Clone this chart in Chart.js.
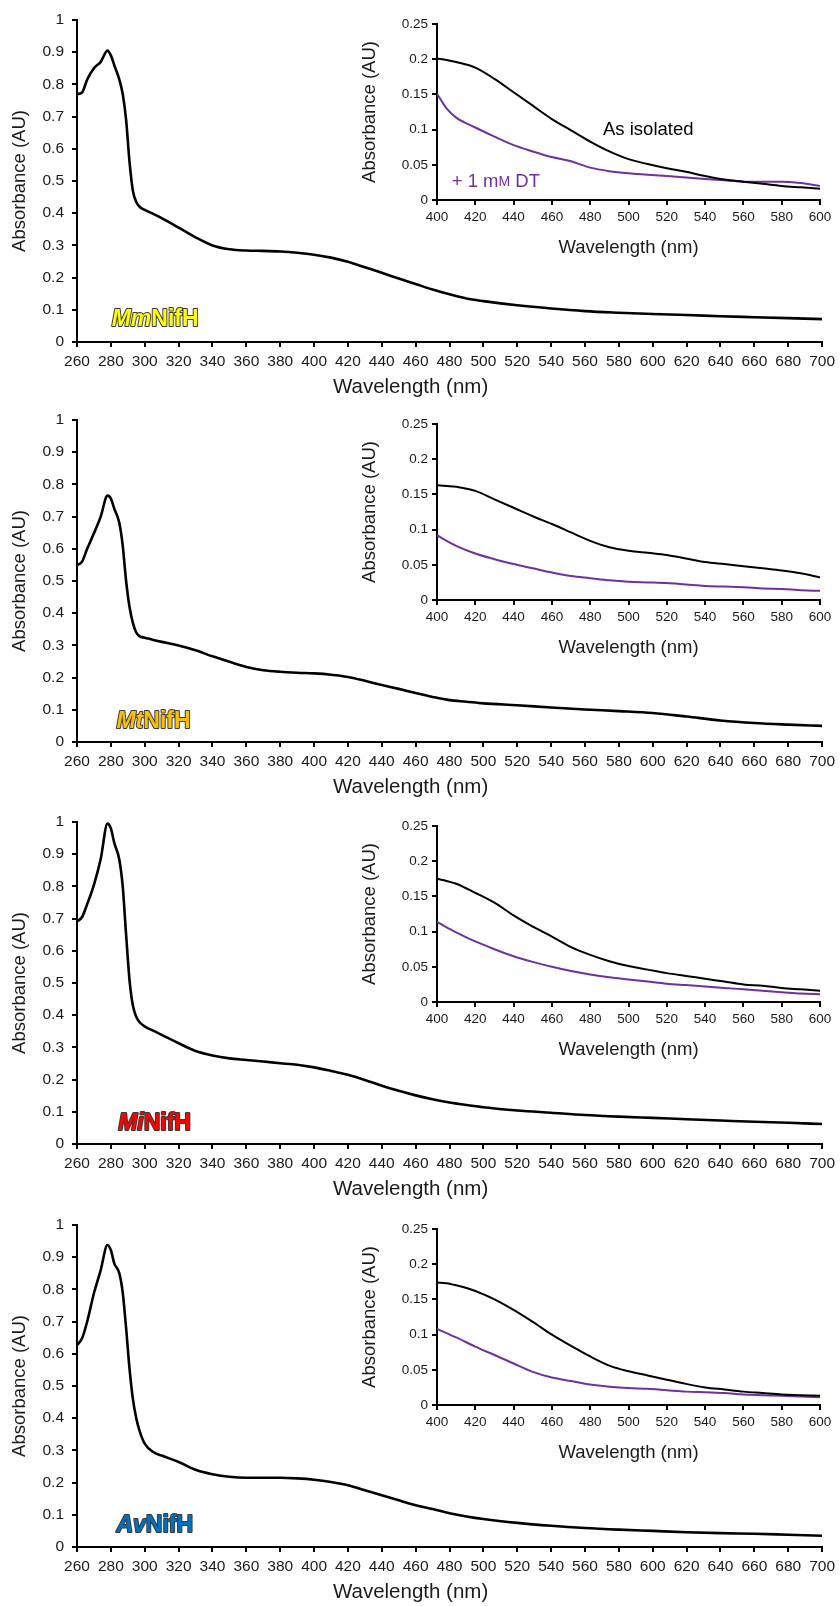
<!DOCTYPE html>
<html>
<head>
<meta charset="utf-8">
<script src="https://cdn.jsdelivr.net/npm/chart.js@4.4.1/dist/chart.umd.min.js"></script>
<style>
  html, body { margin: 0; padding: 0; background: #fff; }
  body { width: 840px; height: 1606px; position: relative; overflow: hidden; }
  canvas { position: absolute; }
</style>
</head>
<body>
<script>
// full spectra, 260-700 nm
const mainWavelengths = [260, 263, 266, 270, 274, 278, 280, 282, 285, 287, 289, 291, 293, 295, 297, 300, 305, 310, 320, 330, 340, 350, 360, 370, 380, 390, 400, 410, 420, 430, 440, 450, 460, 470, 480, 490, 500, 520, 540, 560, 580, 600, 620, 640, 660, 680, 700];
const mmMain = [0.77, 0.775, 0.815, 0.85, 0.87, 0.905, 0.89, 0.86, 0.815, 0.77, 0.69, 0.56, 0.47, 0.435, 0.42, 0.41, 0.398, 0.385, 0.355, 0.325, 0.30, 0.288, 0.284, 0.283, 0.281, 0.277, 0.271, 0.262, 0.249, 0.232, 0.215, 0.197, 0.18, 0.163, 0.148, 0.135, 0.127, 0.114, 0.104, 0.096, 0.091, 0.087, 0.084, 0.080, 0.077, 0.074, 0.071];
const mtMain = [0.549, 0.56, 0.60, 0.648, 0.70, 0.765, 0.756, 0.725, 0.68, 0.61, 0.50, 0.42, 0.37, 0.34, 0.328, 0.324, 0.317, 0.311, 0.30, 0.285, 0.266, 0.249, 0.233, 0.223, 0.218, 0.215, 0.213, 0.209, 0.202, 0.19, 0.177, 0.165, 0.152, 0.14, 0.13, 0.125, 0.12, 0.114, 0.107, 0.101, 0.096, 0.09, 0.079, 0.067, 0.059, 0.054, 0.05];
const miMain = [0.691, 0.705, 0.745, 0.805, 0.885, 0.995, 0.98, 0.935, 0.883, 0.80, 0.65, 0.51, 0.43, 0.395, 0.378, 0.365, 0.352, 0.339, 0.313, 0.289, 0.275, 0.266, 0.261, 0.256, 0.251, 0.246, 0.238, 0.227, 0.215, 0.199, 0.181, 0.165, 0.151, 0.139, 0.129, 0.121, 0.114, 0.104, 0.097, 0.09, 0.085, 0.081, 0.077, 0.073, 0.069, 0.066, 0.062];
const avMain = [0.627, 0.648, 0.70, 0.788, 0.86, 0.938, 0.922, 0.881, 0.85, 0.79, 0.68, 0.555, 0.46, 0.40, 0.36, 0.321, 0.295, 0.284, 0.264, 0.24, 0.226, 0.218, 0.215, 0.215, 0.215, 0.213, 0.209, 0.202, 0.192, 0.176, 0.161, 0.145, 0.13, 0.118, 0.105, 0.095, 0.087, 0.075, 0.066, 0.059, 0.054, 0.05, 0.046, 0.043, 0.041, 0.038, 0.035];

// insets, 400-600 nm: as isolated vs + 1 mM dithionite
const insetWavelengths = [400, 405, 410, 420, 430, 440, 450, 460, 470, 480, 490, 500, 510, 520, 530, 540, 550, 560, 570, 580, 590, 600];
const mmIsolated = [0.201, 0.199, 0.196, 0.188, 0.172, 0.153, 0.134, 0.115, 0.099, 0.083, 0.069, 0.058, 0.051, 0.045, 0.04, 0.034, 0.029, 0.026, 0.023, 0.02, 0.018, 0.016];
const mmDT = [0.151, 0.13, 0.117, 0.103, 0.09, 0.078, 0.069, 0.061, 0.055, 0.046, 0.041, 0.038, 0.036, 0.034, 0.032, 0.03, 0.028, 0.026, 0.026, 0.026, 0.024, 0.02];
const mtIsolated = [0.163, 0.162, 0.161, 0.155, 0.143, 0.131, 0.119, 0.108, 0.096, 0.084, 0.075, 0.07, 0.067, 0.064, 0.059, 0.054, 0.051, 0.048, 0.045, 0.042, 0.038, 0.032];
const mtDT = [0.092, 0.084, 0.077, 0.066, 0.058, 0.051, 0.045, 0.039, 0.034, 0.031, 0.028, 0.026, 0.025, 0.024, 0.022, 0.02, 0.019, 0.018, 0.0165, 0.0155, 0.014, 0.013];
const miIsolated = [0.175, 0.172, 0.168, 0.155, 0.141, 0.123, 0.107, 0.093, 0.078, 0.067, 0.058, 0.051, 0.046, 0.041, 0.037, 0.033, 0.029, 0.025, 0.023, 0.02, 0.018, 0.016];
const miDT = [0.114, 0.106, 0.099, 0.086, 0.075, 0.065, 0.057, 0.05, 0.044, 0.039, 0.035, 0.032, 0.029, 0.026, 0.024, 0.022, 0.02, 0.018, 0.016, 0.014, 0.012, 0.011];
const avIsolated = [0.174, 0.173, 0.17, 0.162, 0.15, 0.135, 0.118, 0.1, 0.084, 0.069, 0.056, 0.048, 0.042, 0.036, 0.03, 0.025, 0.022, 0.019, 0.017, 0.015, 0.014, 0.013];
const avDT = [0.108, 0.102, 0.096, 0.083, 0.071, 0.059, 0.047, 0.039, 0.034, 0.029, 0.026, 0.024, 0.023, 0.021, 0.019, 0.018, 0.017, 0.015, 0.014, 0.013, 0.012, 0.011];

const FONT = "'Liberation Sans', Arial, sans-serif";
const PURPLE = '#7030A0';

const panels = [
  { top: 0,    prefix: 'Mm', color: '#FFFF00', main: mmMain, iso: mmIsolated, dt: mmDT, at: [280.5, 0.068], legend: true },
  { top: 400,  prefix: 'Mt', color: '#FFC000', main: mtMain, iso: mtIsolated, dt: mtDT, at: [283.3, 0.062] },
  { top: 802,  prefix: 'Mi', color: '#FF0000', main: miMain, iso: miIsolated, dt: miDT, at: [284.3, 0.064] },
  { top: 1205, prefix: 'Av', color: '#0070C0', main: avMain, iso: avIsolated, dt: avDT, at: [283.3, 0.067] }
];

// draws text runs at data coordinates (or dy px under the plot), optional outline
const textLabels = {
  id: 'textLabels',
  afterDatasetsDraw(chart, args, opts) {
    const ctx = chart.ctx;
    (opts.items || []).forEach(item => {
      let x0 = chart.scales.x.getPixelForValue(item.x);
      const y = item.dy !== undefined ? chart.chartArea.bottom + item.dy : chart.scales.y.getPixelForValue(item.y);
      ctx.save();
      ctx.textBaseline = 'middle';
      ctx.textAlign = 'left';
      if (item.center) {
        let w = 0;
        item.parts.forEach(p => { ctx.font = p.font; w += ctx.measureText(p.text).width; });
        x0 -= w / 2;
      }
      ['stroke', 'fill'].forEach(pass => {
        let x = x0;
        item.parts.forEach(p => {
          ctx.font = p.font;
          if (pass === 'stroke' && p.stroke) {
            ctx.lineWidth = 2;
            ctx.lineJoin = 'round';
            ctx.strokeStyle = p.stroke;
            ctx.strokeText(p.text, x, y);
          }
          if (pass === 'fill') {
            ctx.fillStyle = p.color;
            ctx.fillText(p.text, x, y);
          }
          x += ctx.measureText(p.text).width;
        });
      });
      ctx.restore();
    });
  }
};

function fmt(v) {
  return String(+v.toFixed(2));
}

function axis(min, max, step, tickSize, tickPad, boxSize, title, titlePad) {
  return {
    type: 'linear', min: min, max: max,
    afterFit: s => { if (s.isHorizontal()) s.height = boxSize; else s.width = boxSize; },
    ticks: { stepSize: step, autoSkip: false, maxRotation: 0, padding: tickPad, color: '#1a1a1a', font: { family: FONT, size: tickSize }, callback: fmt },
    grid: { drawOnChartArea: false, tickLength: 5, color: '#000', lineWidth: 2 },
    border: { color: '#000', width: 2 },
    title: { display: !!title, text: title, color: '#1a1a1a', font: { family: FONT, size: 18.5 }, padding: titlePad }
  };
}

function makeCanvas(left, top, w, h) {
  const c = document.createElement('canvas');
  c.width = w; c.height = h;
  c.style.left = left + 'px'; c.style.top = top + 'px';
  c.style.width = w + 'px'; c.style.height = h + 'px';
  document.body.appendChild(c);
  return c;
}

function points(xs, ys) {
  return xs.map((x, i) => ({ x: x, y: ys[i] }));
}

panels.forEach(p => {
  const mainCanvas = makeCanvas(0, p.top, 840, 401);
  new Chart(mainCanvas, {
    type: 'line',
    data: { datasets: [{ data: points(mainWavelengths, p.main), borderColor: '#000', borderWidth: 2.6, pointRadius: 0, cubicInterpolationMode: 'monotone' }] },
    options: {
      responsive: false, animation: false, events: [],
      layout: { padding: { top: 20, right: 14, left: 0, bottom: 0 } },
      plugins: {
        legend: { display: false }, tooltip: { enabled: false },
        textLabels: { items: [
          { x: p.at[0], y: p.at[1], parts: [
            { text: p.prefix, font: 'italic bold 23px ' + FONT, color: p.color, stroke: '#3a3a3a' },
            { text: 'NifH', font: 'bold 23px ' + FONT, color: p.color, stroke: '#3a3a3a' }
          ] },
          { x: 457, dy: 45, center: true, parts: [{ text: 'Wavelength (nm)', font: '20.5px ' + FONT, color: '#1a1a1a' }] }
        ] }
      },
      scales: {
        x: axis(260, 700, 20, 15.5, 5, 59, '', 0),
        y: axis(0, 1, 0.1, 15.5, 8, 77, 'Absorbance (AU)', { top: 9, bottom: 0 })
      }
    },
    plugins: [textLabels]
  });

  const insetCanvas = makeCanvas(340, p.top, 500, 270);
  const notes = p.legend ? [
    { x: 486.7, y: 0.0997, parts: [{ text: 'As isolated', font: '18.5px ' + FONT, color: '#000' }] },
    { x: 407.7, y: 0.025, parts: [
      { text: '+ 1 m', font: '18.5px ' + FONT, color: PURPLE },
      { text: 'M', font: '14px ' + FONT, color: PURPLE },
      { text: ' DT', font: '18.5px ' + FONT, color: PURPLE }
    ] }
  ] : [];
  new Chart(insetCanvas, {
    type: 'line',
    data: { datasets: [
      { data: points(insetWavelengths, p.iso), borderColor: '#000', borderWidth: 2, pointRadius: 0, cubicInterpolationMode: 'monotone' },
      { data: points(insetWavelengths, p.dt), borderColor: PURPLE, borderWidth: 2, pointRadius: 0, cubicInterpolationMode: 'monotone' }
    ] },
    options: {
      responsive: false, animation: false, events: [],
      layout: { padding: { top: 24, right: 20, left: 0, bottom: 0 } },
      plugins: { legend: { display: false }, tooltip: { enabled: false }, textLabels: { items: notes } },
      scales: {
        x: axis(400, 600, 20, 13.5, 4, 70, 'Wavelength (nm)', { top: 0, bottom: 11 }),
        y: axis(0, 0.25, 0.05, 13.5, 4, 97, 'Absorbance (AU)', { top: 19, bottom: 0 })
      }
    },
    plugins: [textLabels]
  });
});
</script>
</body>
</html>
